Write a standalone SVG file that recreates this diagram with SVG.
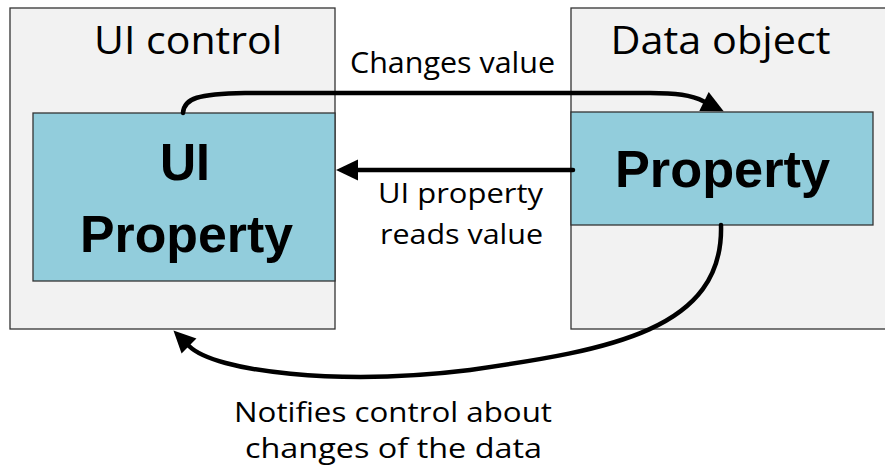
<svg xmlns="http://www.w3.org/2000/svg" width="885" height="470" viewBox="0 0 885 470">
  <style>
    .outer { fill: #f2f2f2; stroke: #333333; stroke-width: 1.3; }
    .inner { fill: #92cddc; stroke: #333333; stroke-width: 1.3; }
    .lbl { font-family: "Open Sans", "Liberation Sans", sans-serif; fill: #000000; text-anchor: middle; }
    .bold { font-family: "Liberation Sans", "Open Sans", sans-serif; font-weight: bold; fill: #000000; text-anchor: middle; }
    .conn { fill: none; stroke: #000000; stroke-width: 4.5; stroke-linecap: round; }
  </style>
  <defs>
    <marker id="arrow" markerUnits="userSpaceOnUse" markerWidth="24" markerHeight="24" refX="0" refY="10.5" orient="auto" overflow="visible">
      <path d="M0,0 L22,10.5 L0,21 Z" fill="#000000"/>
    </marker>
  </defs>

  <rect width="885" height="470" fill="#ffffff"/>

  <!-- UI control with its UI property -->
  <g id="ui-control">
    <rect class="outer" x="10" y="8" width="325" height="321"/>
    <text class="lbl" x="188" y="54" font-size="38" textLength="188" lengthAdjust="spacingAndGlyphs">UI control</text>
  </g>
  <g id="ui-property">
    <rect class="inner" x="33" y="113" width="302" height="168"/>
    <text class="bold" x="185" y="180" font-size="52" textLength="50" lengthAdjust="spacingAndGlyphs">UI</text>
    <text class="bold" x="186.5" y="252" font-size="52" textLength="213" lengthAdjust="spacingAndGlyphs">Property</text>
  </g>

  <!-- Data object with its property -->
  <g id="data-object">
    <rect class="outer" x="571" y="8" width="330" height="321"/>
    <text class="lbl" x="720.5" y="54" font-size="38" textLength="220" lengthAdjust="spacingAndGlyphs">Data object</text>
  </g>
  <g id="data-property">
    <rect class="inner" x="571" y="112" width="302" height="113"/>
    <text class="bold" x="722.5" y="187" font-size="52" textLength="215" lengthAdjust="spacingAndGlyphs">Property</text>
  </g>

  <!-- Connectors -->
  <g id="connectors">
    <path class="conn" d="M183,113 C184,98 198,94 245,93 L650,93 C676,93 691,95 704,101.5" marker-end="url(#arrow)"/>
    <path class="conn" d="M573,170 L358,170" marker-end="url(#arrow)"/>
    <path class="conn" d="M721,225 C724,330 610,350 470,370 C340,386 215,372 189,346" marker-end="url(#arrow)"/>
  </g>

  <!-- Connector labels -->
  <g id="labels">
    <text class="lbl" x="452.5" y="72.5" font-size="29" textLength="205" lengthAdjust="spacingAndGlyphs">Changes value</text>
    <text class="lbl" x="460.5" y="203" font-size="28" textLength="165" lengthAdjust="spacingAndGlyphs">UI property</text>
    <text class="lbl" x="461.5" y="244" font-size="28" textLength="163" lengthAdjust="spacingAndGlyphs">reads value</text>
    <text class="lbl" x="393" y="421.5" font-size="28" textLength="318" lengthAdjust="spacingAndGlyphs">Notifies control about</text>
    <text class="lbl" x="393.5" y="458" font-size="28" textLength="297" lengthAdjust="spacingAndGlyphs">changes of the data</text>
  </g>
</svg>
